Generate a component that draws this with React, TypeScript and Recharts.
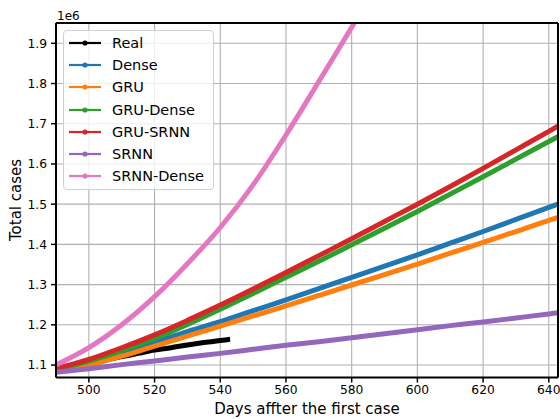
import React from 'react';
import { LineChart, Line, XAxis, YAxis, CartesianGrid, ReferenceLine, Customized } from 'recharts';

const FONT = '"DejaVu Sans", "Liberation Sans", sans-serif';

// x positions (days after the first case)
const days = [490, 500, 510, 520, 530, 540, 550, 560, 570, 580, 590, 600, 610, 620, 630, 640, 643];
const realDays = [490, 495, 500, 505, 510, 515, 520, 525, 530, 535, 540, 543];
const srnnDenseDays = [490, 500, 510, 520, 530, 540, 550, 560, 570, 580, 590];

// values in millions
const realValues = [1.086, 1.094, 1.102, 1.112, 1.121, 1.129, 1.137, 1.143, 1.150, 1.156, 1.161, 1.164];
const denseValues = [1.088, 1.106, 1.131, 1.157, 1.183, 1.208, 1.235, 1.262, 1.290, 1.318, 1.346, 1.374, 1.403, 1.432, 1.462, 1.492, 1.501];
const gruValues = [1.086, 1.100, 1.122, 1.147, 1.172, 1.197, 1.222, 1.247, 1.273, 1.299, 1.325, 1.351, 1.378, 1.405, 1.432, 1.460, 1.468];
const gruDenseValues = [1.089, 1.110, 1.136, 1.166, 1.201, 1.239, 1.278, 1.318, 1.358, 1.399, 1.440, 1.482, 1.525, 1.568, 1.612, 1.656, 1.669];
const gruSrnnValues = [1.091, 1.114, 1.143, 1.175, 1.211, 1.249, 1.289, 1.330, 1.372, 1.414, 1.457, 1.500, 1.544, 1.589, 1.635, 1.681, 1.695];
const srnnValues = [1.082, 1.091, 1.101, 1.110, 1.120, 1.129, 1.139, 1.149, 1.158, 1.168, 1.178, 1.188, 1.198, 1.207, 1.217, 1.227, 1.230];
const srnnDenseValues = [1.100, 1.143, 1.200, 1.270, 1.352, 1.442, 1.548, 1.672, 1.805, 1.940, 2.080];

const xTicks = [500, 520, 540, 560, 580, 600, 620, 640];
const yTicks = [1.1e6, 1.2e6, 1.3e6, 1.4e6, 1.5e6, 1.6e6, 1.7e6, 1.8e6, 1.9e6];

const X_DOMAIN: [number, number] = [490, 642.8];
const Y_DOMAIN: [number, number] = [1.069e6, 1.9505e6];

const toData = (ds: number[], vs: number[]) => ds.map((d, i) => ({ day: d, value: vs[i] * 1e6 }));

const series = [
  { name: 'Real', color: '#000000', data: toData(realDays, realValues) },
  { name: 'Dense', color: '#1f77b4', data: toData(days, denseValues) },
  { name: 'GRU', color: '#ff7f0e', data: toData(days, gruValues) },
  { name: 'GRU-Dense', color: '#2ca02c', data: toData(days, gruDenseValues) },
  { name: 'GRU-SRNN', color: '#d62728', data: toData(days, gruSrnnValues) },
  { name: 'SRNN', color: '#9467bd', data: toData(days, srnnValues) },
  { name: 'SRNN-Dense', color: '#e377c2', data: toData(srnnDenseDays, srnnDenseValues) },
];

const Texts = () => (
  <g fontFamily={FONT} fill="#000">
    <text x={57} y={19.5} fontSize={12}>1e6</text>
    <text x={21} y={200} fontSize={15} textAnchor="middle" transform="rotate(-90, 21, 200)">Total cases</text>
    <text x={307} y={414} fontSize={15} textAnchor="middle">Days affter the first case</text>
  </g>
);

const LegendBox = () => (
  <div
    style={{
      position: 'absolute',
      left: 63,
      top: 30,
      width: 151,
      height: 160,
      boxSizing: 'border-box',
      border: '1px solid #d0d0d0',
      borderRadius: 4,
      background: 'rgba(255,255,255,0.8)',
      paddingTop: 1,
      paddingLeft: 5,
      fontFamily: FONT,
      fontSize: 14.5,
      color: '#000',
    }}
  >
    {series.map((s) => (
      <div key={s.name} style={{ height: 22.17, display: 'flex', alignItems: 'center', whiteSpace: 'nowrap' }}>
        <svg width={32} height={10} style={{ marginRight: 11, flex: 'none' }}>
          <line x1={0} y1={5} x2={32} y2={5} stroke={s.color} strokeWidth={2.2} />
          <circle cx={16} cy={5} r={2.6} fill={s.color} />
        </svg>
        <span style={{ lineHeight: '22px' }}>{s.name}</span>
      </div>
    ))}
  </div>
);

export default function App() {
  return (
    <div style={{ position: 'absolute', left: 0, top: 0, width: 560, height: 419, background: '#fff' }}>
      <LineChart width={560} height={419} margin={{ top: 23, right: 2, left: 0, bottom: 11.5 }}>
        <CartesianGrid stroke="#b0b0b0" strokeWidth={1.1} />
        <XAxis
          dataKey="day"
          type="number"
          domain={X_DOMAIN}
          allowDataOverflow
          ticks={xTicks}
          height={30}
          tickSize={5}
          tickMargin={3}
          axisLine={{ stroke: '#000', strokeWidth: 2 }}
          tickLine={{ stroke: '#000', strokeWidth: 1.5 }}
          tick={{ fill: '#000', fontSize: 12.3, fontFamily: FONT }}
        />
        <YAxis
          type="number"
          domain={Y_DOMAIN}
          allowDataOverflow
          ticks={yTicks}
          width={56}
          tickSize={5}
          tickMargin={4}
          tickFormatter={(v: number) => (v / 1e6).toFixed(1)}
          axisLine={{ stroke: '#000', strokeWidth: 2 }}
          tickLine={{ stroke: '#000', strokeWidth: 1.5 }}
          tick={{ fill: '#000', fontSize: 12.3, fontFamily: FONT }}
        />
        {series.map((s) => (
          <Line
            key={s.name}
            data={s.data}
            dataKey="value"
            name={s.name}
            type="monotone"
            stroke={s.color}
            strokeWidth={5}
            dot={false}
            activeDot={false}
            isAnimationActive={false}
          />
        ))}
        <ReferenceLine x={642.8} stroke="#000" strokeWidth={2} ifOverflow="visible" />
        <ReferenceLine y={1.9505e6} stroke="#000" strokeWidth={2} ifOverflow="visible" />
        <Customized component={Texts} />
      </LineChart>
      <LegendBox />
    </div>
  );
}
